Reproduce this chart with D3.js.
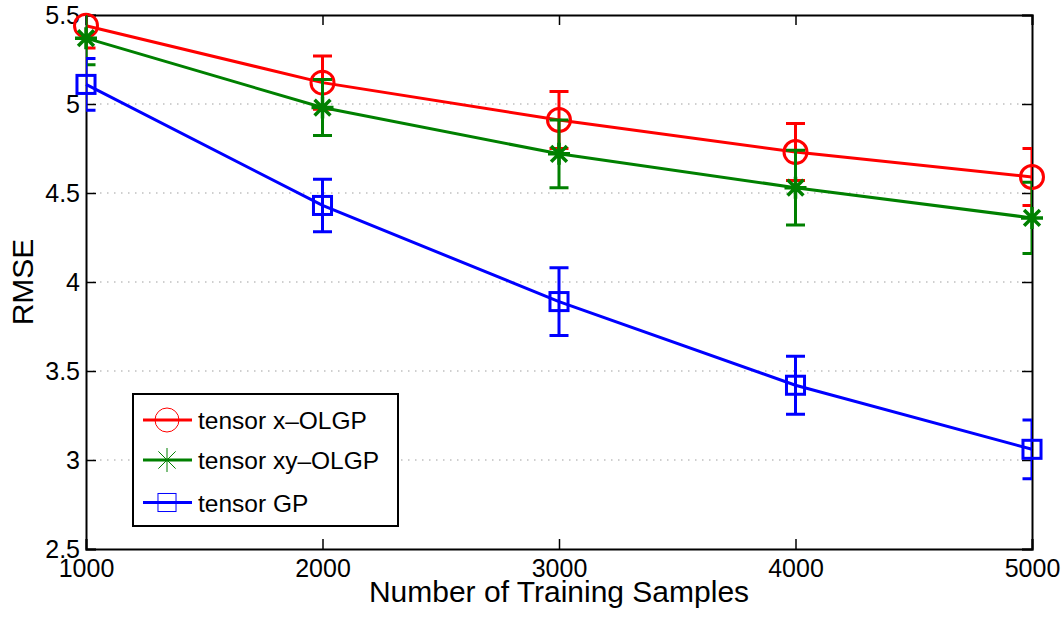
<!DOCTYPE html>
<html lang="en">
<head>
    <meta charset="UTF-8">
    <script src="https://cdn.jsdelivr.net/npm/d3@7"></script>
    <title>RMSE vs Number of Training Samples</title>
    <style>
        html,
        body {
            margin: 0px;
            padding: 0px;
            background-color: #ffffff;
            font-family: "Liberation Sans", Arial, sans-serif;
        }
    </style>
</head>
<body>
    <div id='chart'></div>

    <script>

        // data
        let samples = [1000, 2000, 3000, 4000, 5000];
        let xOlgp = [5.44, 5.12, 4.91, 4.73, 4.59];
        let xOlgpErr = [0.125, 0.15, 0.16, 0.16, 0.16];
        let xyOlgp = [5.37, 4.98, 4.72, 4.53, 4.36];
        let xyOlgpErr = [0.15, 0.157, 0.19, 0.21, 0.20];
        let gp = [5.11, 4.43, 3.89, 3.42, 3.06];
        let gpErr = [0.145, 0.147, 0.19, 0.163, 0.165];

        let xTicks = [1000, 2000, 3000, 4000, 5000];
        let yTicks = [2.5, 3, 3.5, 4, 4.5, 5, 5.5];

        let series = [
            { name: 'tensor x\u2013OLGP', values: xOlgp, err: xOlgpErr, colour: '#ff0000', marker: 'circle' },
            { name: 'tensor xy\u2013OLGP', values: xyOlgp, err: xyOlgpErr, colour: '#008000', marker: 'star' },
            { name: 'tensor GP', values: gp, err: gpErr, colour: '#0000ff', marker: 'square' }
        ];

        let width = 1064;
        let height = 617;

        let margin = {
            top: 15,
            bottom: 68,
            left: 86,
            right: 32
        };

        let svg = d3.select('#chart').append('svg').attr('width', width).attr('height', height);

        let x = d3.scaleLinear().domain([1000, 5000]).range([margin.left, width - margin.right]);
        let y = d3.scaleLinear().domain([2.5, 5.5]).range([height - margin.bottom, margin.top]);

        let x0 = x.range()[0], x1 = x.range()[1];
        let y0 = y.range()[0], y1 = y.range()[1];

        svg.append('defs').append('clipPath').attr('id', 'plot_clip')
            .append('rect')
            .attr('x', x0).attr('y', y1)
            .attr('width', x1 - x0).attr('height', y0 - y1);

        // horizontal dotted grid
        svg.append('g')
            .selectAll('line')
            .data(yTicks.slice(1, -1))
            .join('line')
            .attr('x1', x0).attr('x2', x1)
            .attr('y1', d => y(d)).attr('y2', d => y(d))
            .attr('stroke', '#a0a0a0')
            .attr('stroke-width', 1.2)
            .attr('stroke-dasharray', '1.5,5.5');

        // axes with inward ticks (box style)
        let tickLen = 10;
        let xAxisBottom = d3.axisBottom(x).tickValues(xTicks).tickSize(-tickLen).tickPadding(10).tickFormat(d3.format('d'));
        let xAxisTop = d3.axisTop(x).tickValues(xTicks).tickSize(-tickLen).tickFormat('');
        let yAxisLeft = d3.axisLeft(y).tickValues(yTicks).tickSize(-tickLen).tickPadding(6).tickFormat(d3.format('~g'));
        let yAxisRight = d3.axisRight(y).tickValues(yTicks).tickSize(-tickLen).tickFormat('');

        let axes = [
            svg.append('g').attr('transform', `translate(0,${y0})`).call(xAxisBottom),
            svg.append('g').attr('transform', `translate(0,${y1})`).call(xAxisTop),
            svg.append('g').attr('transform', `translate(${x0},0)`).call(yAxisLeft),
            svg.append('g').attr('transform', `translate(${x1},0)`).call(yAxisRight)
        ];
        axes.forEach(a => {
            a.select('.domain').attr('stroke', '#000').attr('stroke-width', 2);
            a.selectAll('.tick line').attr('stroke', '#000').attr('stroke-width', 1.5);
            a.selectAll('.tick text')
                .attr('fill', '#000')
                .style('font-size', '25px')
                .style('font-family', '"Liberation Sans", Arial, sans-serif');
        });

        // axis labels
        svg.append('text')
            .attr('x', (x0 + x1) / 2)
            .attr('y', 602)
            .attr('text-anchor', 'middle')
            .style('font-size', '30px')
            .text('Number of Training Samples');

        svg.append('text')
            .attr('transform', `translate(33,${(y0 + y1) / 2}) rotate(-90)`)
            .attr('text-anchor', 'middle')
            .style('font-size', '30px')
            .text('RMSE');

        let line = d3.line().x((d, i) => x(samples[i])).y(d => y(d));

        let drawMarker = function(g, kind, colour, size, sw) {
            if (kind === 'circle') {
                g.append('circle').attr('r', size).attr('fill', 'none')
                    .attr('stroke', colour).attr('stroke-width', sw);
            } else if (kind === 'square') {
                g.append('rect').attr('x', -size * 0.82).attr('y', -size * 0.82)
                    .attr('width', size * 1.64).attr('height', size * 1.64)
                    .attr('fill', 'none').attr('stroke', colour).attr('stroke-width', sw);
            } else {
                let s = size, dd = size * 0.72;
                g.append('path')
                    .attr('d', `M${-s},0L${s},0M0,${-s}L0,${s}M${-dd},${-dd}L${dd},${dd}M${-dd},${dd}L${dd},${-dd}`)
                    .attr('stroke', colour).attr('stroke-width', sw).attr('fill', 'none');
            }
        };

        series.forEach(s => {
            let g = svg.append('g');
            let cap = 9.5;

            // error bars, clipped to the axes box
            let eb = g.append('g').attr('clip-path', 'url(#plot_clip)')
                .selectAll('g')
                .data(s.values)
                .join('g');
            eb.append('path')
                .attr('d', (d, i) => {
                    let cx = x(samples[i]);
                    let hi = y(d + s.err[i]), lo = y(d - s.err[i]);
                    return `M${cx},${hi}L${cx},${lo}M${cx - cap},${hi}L${cx + cap},${hi}M${cx - cap},${lo}L${cx + cap},${lo}`;
                })
                .attr('stroke', s.colour)
                .attr('stroke-width', 3)
                .attr('fill', 'none');

            g.append('path')
                .datum(s.values)
                .attr('d', line)
                .attr('fill', 'none')
                .attr('stroke', s.colour)
                .attr('stroke-width', 3);

            g.selectAll('.marker')
                .data(s.values)
                .join('g')
                .attr('class', 'marker')
                .attr('transform', (d, i) => `translate(${x(samples[i])},${y(d)})`)
                .each(function() {
                    if (s.marker === 'circle') drawMarker(d3.select(this), 'circle', s.colour, 11.5, 3);
                    else if (s.marker === 'square') drawMarker(d3.select(this), 'square', s.colour, 11, 3);
                    else drawMarker(d3.select(this), 'star', s.colour, 11, 3.5);
                });
        });

        // legend
        let legend = svg.append('g').attr('transform', 'translate(133,394)');
        legend.append('rect')
            .attr('width', 265).attr('height', 132)
            .attr('fill', '#fff')
            .attr('stroke', '#000')
            .attr('stroke-width', 2);

        let rowY = [26, 66, 108.5];
        series.forEach((s, i) => {
            let row = legend.append('g').attr('transform', `translate(0,${rowY[i]})`);
            row.append('line')
                .attr('x1', 10).attr('x2', 59)
                .attr('y1', 0).attr('y2', 0)
                .attr('stroke', s.colour).attr('stroke-width', 3);
            let m = row.append('g').attr('transform', 'translate(34,0)');
            if (s.marker === 'circle') drawMarker(m, 'circle', s.colour, 12, 1);
            else if (s.marker === 'square') drawMarker(m, 'square', s.colour, 11, 1);
            else drawMarker(m, 'star', s.colour, 12, 1);
            row.append('text')
                .attr('x', 65)
                .attr('y', 9)
                .style('font-size', '24.5px')
                .text(s.name);
        });

    </script>

</body>
</html>
